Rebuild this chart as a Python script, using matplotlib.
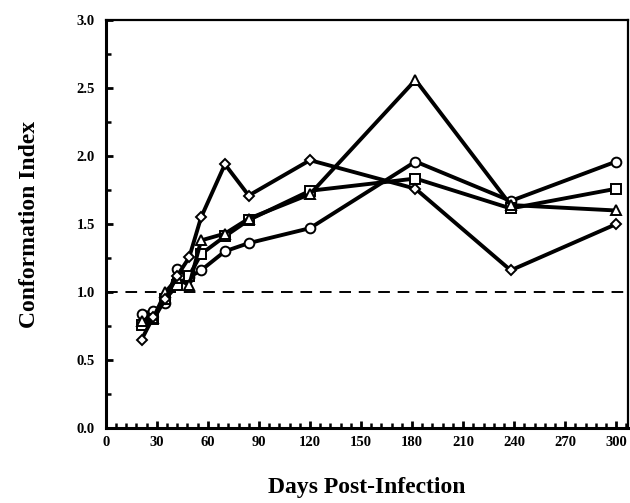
import matplotlib
matplotlib.use("Agg")
import matplotlib.pyplot as plt
from matplotlib.ticker import MultipleLocator

days = [21, 28, 35, 42, 49, 56, 70, 84, 120, 182, 238, 300]
circle_vals = [0.84, 0.86, 0.92, 1.17, 1.11, 1.16, 1.30, 1.36, 1.47, 1.96, 1.67, 1.96]
square_vals = [0.76, 0.80, 0.95, 1.05, 1.12, 1.28, 1.41, 1.53, 1.745, 1.835, 1.615, 1.76]
triangle_vals = [0.79, 0.81, 1.00, 1.10, 1.05, 1.38, 1.43, 1.54, 1.72, 2.56, 1.64, 1.60]
diamond_vals = [0.65, 0.82, 0.95, 1.12, 1.255, 1.55, 1.94, 1.71, 1.97, 1.76, 1.16, 1.50]

x_ticks = [0, 30, 60, 90, 120, 150, 180, 210, 240, 270, 300]
y_ticks = [0.0, 0.5, 1.0, 1.5, 2.0, 2.5, 3.0]

plt.rcParams['font.family'] = ['Liberation Serif', 'DejaVu Serif']

fig = plt.figure(figsize=(6.30, 5.03), dpi=100)
ax = fig.add_axes([0.168, 0.149, 0.829, 0.811])

ax.axhline(1.0, color='black', lw=1.4, ls=(0, (6, 4)), zorder=1)

series = [
    (circle_vals, 'o', 7),
    (square_vals, 's', 6.5),
    (triangle_vals, '^', 7.5),
    (diamond_vals, 'D', 5.5),
]
for vals, mk, ms in series:
    ax.plot(days, vals, color='black', lw=2.8, marker=mk, ms=ms,
            mfc='white', mec='black', mew=1.4, zorder=3)

ax.set_xlim(0, 307)
ax.set_ylim(0, 3.0)
ax.set_xticks(x_ticks)
ax.set_xticklabels([str(t) for t in x_ticks])
ax.set_yticks(y_ticks)
ax.set_yticklabels([f"{t:.1f}" for t in y_ticks])
ax.xaxis.set_minor_locator(MultipleLocator(6))
ax.yaxis.set_minor_locator(MultipleLocator(0.25))

ax.tick_params(axis='both', which='major', direction='in', length=5, width=2,
               labelsize=10.5)
ax.tick_params(axis='both', which='minor', direction='in', length=3.5, width=1.8)
ax.tick_params(axis='x', pad=6)
ax.tick_params(axis='y', pad=8)
for lab in ax.get_xticklabels() + ax.get_yticklabels():
    lab.set_fontweight('bold')

for sp in ax.spines.values():
    sp.set_linewidth(1.6)
ax.spines['left'].set_linewidth(2.2)
ax.spines['bottom'].set_linewidth(2.2)

ax.set_xlabel('Days Post-Infection', fontsize=17, fontweight='bold', labelpad=20)
ax.set_ylabel('Conformation Index', fontsize=17, fontweight='bold', labelpad=26)

fig.savefig('out.png', dpi=100)
